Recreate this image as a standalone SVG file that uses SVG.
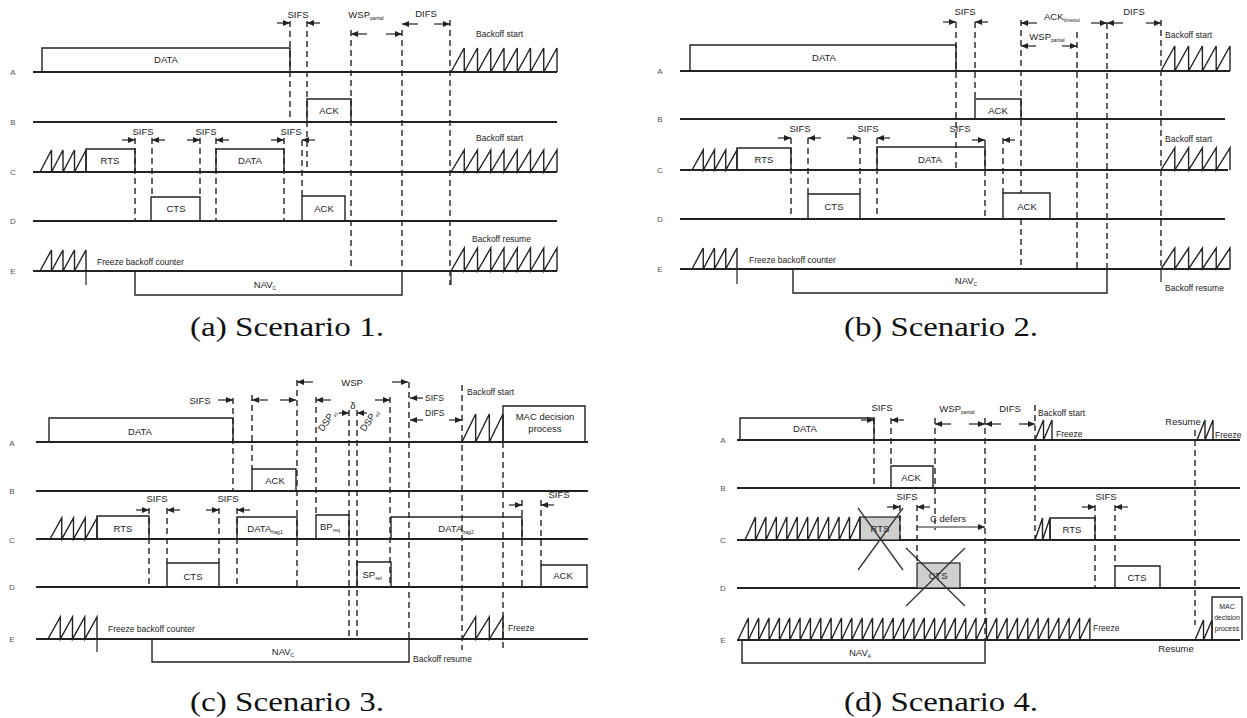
<svg xmlns="http://www.w3.org/2000/svg" width="1247" height="718" viewBox="0 0 1247 718">
<defs>
<marker id="ah" markerWidth="7" markerHeight="6" refX="7" refY="3" orient="auto" markerUnits="userSpaceOnUse"><path d="M0,0 L7,3 L0,6 z" fill="#222"/></marker>
<style>
.ln{stroke:#222;stroke-width:1.8;fill:none}
.bx{stroke:#222;stroke-width:1.4;fill:none}
.gb{stroke:#222;stroke-width:1.2;fill:#cfcfcf}
.ds{stroke:#222;stroke-width:1.4;stroke-dasharray:6,4;fill:none}
.sw{stroke:#222;stroke-width:1.4;fill:none;stroke-linejoin:miter}
.ar{stroke:#222;stroke-width:1.2;fill:none}
.tk{stroke:#222;stroke-width:1.2;fill:none}
.x{stroke:#333;stroke-width:1.3;fill:none}
.t{font-family:"Liberation Sans",Arial,sans-serif;font-size:9.5px;fill:#222;text-anchor:middle}
.tl{font-family:"Liberation Sans",Arial,sans-serif;font-size:8.5px;fill:#222;text-anchor:start}
.lb{font-family:"Liberation Sans",Arial,sans-serif;font-size:8px;fill:#555;text-anchor:middle}
.sm{font-family:"Liberation Sans",Arial,sans-serif;font-size:7px;fill:#222;text-anchor:middle}
.sub{font-size:5px}
.cap{font-family:"Liberation Serif","Times New Roman",serif;font-size:27px;fill:#111;text-anchor:middle}
</style>
</defs>
<rect width="1247" height="718" fill="#fff"/>

<!-- ============ Panel (a) ============ -->
<g id="panel-a">
<g id="a-rows">
<text class="lb" x="13" y="75">A</text><text class="lb" x="13" y="125">B</text><text class="lb" x="13" y="175">C</text><text class="lb" x="13" y="224">D</text><text class="lb" x="13" y="274">E</text>
<path class="ln" d="M33,72H557M33,122H557M33,172H557M33,221H557M33,271H557"/>
</g>
<g id="a-data-A"><path class="bx" d="M42,72V48H290V72"/><text class="t" x="166" y="63">DATA</text></g>
<g id="a-ack-B"><path class="bx" d="M307,122V99H351V122"/><text class="t" x="329" y="114">ACK</text></g>
<g id="a-rts-C"><path class="bx" d="M86,172V149H135V172"/><text class="t" x="110" y="164">RTS</text></g>
<g id="a-cts-D"><path class="bx" d="M151,221V197H200V221"/><text class="t" x="176" y="212">CTS</text></g>
<g id="a-data-C"><path class="bx" d="M216,172V149H284V172"/><text class="t" x="250" y="164">DATA</text></g>
<g id="a-ack-D"><path class="bx" d="M302,221V196H345V221"/><text class="t" x="324" y="212">ACK</text></g>
<g id="a-nav-E"><path class="bx" d="M135,271V295H402V271"/><text class="t" x="265" y="288">NAV<tspan class="sub" dy="2">C</tspan></text></g>
<g id="a-backoff">
<path class="sw" d="M451,72l13.25,-24v24l13.25,-24v24l13.25,-24v24l13.25,-24v24l13.25,-24v24l13.25,-24v24l13.25,-24v24l13.25,-24v24"/>
<path class="sw" d="M451,172l13.25,-22v22l13.25,-22v22l13.25,-22v22l13.25,-22v22l13.25,-22v22l13.25,-22v22l13.25,-22v22l13.25,-22v22"/>
<path class="sw" d="M451,271l13.25,-23v23l13.25,-23v23l13.25,-23v23l13.25,-23v23l13.25,-23v23l13.25,-23v23l13.25,-23v23l13.25,-23v23"/>
<path class="sw" d="M40,172l11.5,-22v22l11.5,-22v22l11.5,-22v22l11.5,-22v22"/>
<path class="sw" d="M40,271l11.5,-21v21l11.5,-21v21l11.5,-21v21l11.5,-21v21"/>
<text class="tl" x="476" y="37">Backoff start</text>
<text class="tl" x="476" y="141">Backoff start</text>
<text class="tl" x="472" y="242">Backoff resume</text>
<text class="tl" x="97" y="265">Freeze backoff counter</text>
</g>
<g id="a-connectors">
<path class="ds" d="M290,21V122M307,21V172M302,140V196M351,30V271M402,30V271M450,20V285M135,138V221M152,138V197M200,138V197M216,138V221M284,138V221"/>
<path class="tk" d="M86,271V285M451,271V285"/>
<g marker-end="url(#ah)">
<path class="ar" d="M277,23H290"/><path class="ar" d="M320,23H307"/>
<path class="ar" d="M367,34H351"/><path class="ar" d="M386,34H402"/>
<path class="ar" d="M418,24H402"/><path class="ar" d="M434,24H450"/>
<path class="ar" d="M122,140H135"/><path class="ar" d="M165,140H152"/>
<path class="ar" d="M187,140H200"/><path class="ar" d="M229,140H216"/>
<path class="ar" d="M271,140H284"/><path class="ar" d="M315,140H302"/>
</g>
<text class="t" x="298" y="18">SIFS</text>
<text class="t" x="366" y="18">WSP<tspan class="sub" dy="2">partial</tspan></text>
<text class="t" x="426" y="17">DIFS</text>
<text class="t" x="143" y="135">SIFS</text>
<text class="t" x="206" y="135" fill="#888">SIFS</text>
<text class="t" x="291" y="135">SIFS</text>
</g>
</g>

<!-- ============ Panel (b) ============ -->
<g id="panel-b">
<g id="b-rows">
<text class="lb" x="660" y="74">A</text><text class="lb" x="660" y="122">B</text><text class="lb" x="660" y="173">C</text><text class="lb" x="660" y="222">D</text><text class="lb" x="660" y="272">E</text>
<path class="ln" d="M680,71H1230M680,119H1225M680,170H1228M680,219H1225M680,269H1230"/>
</g>
<g id="b-data-A"><path class="bx" d="M690,71V45H956V71"/><text class="t" x="824" y="61">DATA</text></g>
<g id="b-ack-B"><path class="bx" d="M975,119V99H1021V119"/><text class="t" x="998" y="114">ACK</text></g>
<g id="b-rts-C"><path class="bx" d="M737,170V148H791V170"/><text class="t" x="764" y="163">RTS</text></g>
<g id="b-cts-D"><path class="bx" d="M808,219V194H860V219"/><text class="t" x="834" y="210">CTS</text></g>
<g id="b-data-C"><path class="bx" d="M877,170V147H985V170"/><text class="t" x="930" y="163">DATA</text></g>
<g id="b-ack-D"><path class="bx" d="M1003,219V193H1050V219"/><text class="t" x="1027" y="210">ACK</text></g>
<g id="b-nav-E"><path class="bx" d="M793,269V293H1107V269"/><text class="t" x="966" y="284">NAV<tspan class="sub" dy="2">C</tspan></text></g>
<g id="b-backoff">
<path class="sw" d="M1161,71l13.8,-25v25l13.8,-25v25l13.8,-25v25l13.8,-25v25l13.8,-25v25"/>
<path class="sw" d="M1161,170l13.8,-22v22l13.8,-22v22l13.8,-22v22l13.8,-22v22l13.8,-22v22"/>
<path class="sw" d="M1161,269l13.8,-21v21l13.8,-21v21l13.8,-21v21l13.8,-21v21l13.8,-21v21"/>
<path class="sw" d="M692,170l11.25,-20v20l11.25,-20v20l11.25,-20v20l11.25,-20v20"/>
<path class="sw" d="M692,269l11.25,-21v21l11.25,-21v21l11.25,-21v21l11.25,-21v21" stroke="#777"/>
<text class="tl" x="1165" y="38">Backoff start</text>
<text class="tl" x="1165" y="142">Backoff start</text>
<text class="tl" x="1165" y="291">Backoff resume</text>
<text class="tl" x="749" y="263">Freeze backoff counter</text>
</g>
<g id="b-connectors">
<path class="ds" d="M956,22V170M975,22V99M1021,20V193M1021,219V269M1077,32V269M1107,23V269M1161,20V269M791,138V219M808,138V194M860,138V194M877,138V219M985,140V219M1003,138V193"/>
<path class="tk" d="M737,269V284M1161,269V282"/>
<g marker-end="url(#ah)">
<path class="ar" d="M943,22H956"/><path class="ar" d="M988,22H975"/>
<path class="ar" d="M1037,23H1021"/><path class="ar" d="M1091,23H1107"/>
<path class="ar" d="M1123,23H1107"/><path class="ar" d="M1146,23H1161"/>
<path class="ar" d="M1036,46H1021"/><path class="ar" d="M1062,46H1077"/>
<path class="ar" d="M778,138H791"/><path class="ar" d="M821,138H808"/>
<path class="ar" d="M847,138H860"/><path class="ar" d="M890,138H877"/>
<path class="ar" d="M972,140H985"/><path class="ar" d="M1015,140H1003"/>
</g>
<text class="t" x="965" y="15">SIFS</text>
<text class="t" x="1062" y="20">ACK<tspan class="sub" dy="2">timeout</tspan></text>
<text class="t" x="1134" y="15">DIFS</text>
<text class="t" x="1047" y="40">WSP<tspan class="sub" dy="2">partial</tspan></text>
<text class="t" x="800" y="132">SIFS</text>
<text class="t" x="868" y="132">SIFS</text>
<text class="t" x="960" y="132">SIFS</text>
</g>
</g>

<!-- ============ Panel (c) ============ -->
<g id="panel-c">
<g id="c-rows">
<text class="lb" x="12" y="446">A</text><text class="lb" x="12" y="494">B</text><text class="lb" x="12" y="543">C</text><text class="lb" x="12" y="590">D</text><text class="lb" x="12" y="642">E</text>
<path class="ln" d="M36,442H588M36,491H588M36,539H588M36,587H588M36,639H588"/>
</g>
<g id="c-data-A"><path class="bx" d="M49,442V418H233V442"/><text class="t" x="140" y="435">DATA</text></g>
<g id="c-mac-A"><path class="bx" d="M503,442V406H585V442"/><text class="t" x="545" y="420">MAC decision</text><text class="t" x="545" y="432">process</text></g>
<g id="c-ack-B"><path class="bx" d="M252,491V469H296V491"/><text class="t" x="275" y="484">ACK</text></g>
<g id="c-rts-C"><path class="bx" d="M97,539V516H149V539"/><text class="t" x="123" y="532">RTS</text></g>
<g id="c-frag1-C"><path class="bx" d="M237,539V517H297V539"/><text class="t" x="265" y="532">DATA<tspan class="sub" dy="2">frag1</tspan></text></g>
<g id="c-bp-C"><path class="bx" d="M316,539V515H349V539"/><text class="t" x="330" y="530">BP<tspan class="sub" dy="2">req</tspan></text></g>
<g id="c-frag2-C"><path class="bx" d="M391,539V517H522V539"/><text class="t" x="456" y="532">DATA<tspan class="sub" dy="2">frag2</tspan></text></g>
<g id="c-cts-D"><path class="bx" d="M167,587V563H219V587"/><text class="t" x="193" y="580">CTS</text></g>
<g id="c-sp-D"><path class="bx" d="M357,587V562H391V587"/><text class="t" x="372" y="578">SP<tspan class="sub" dy="2">sel</tspan></text></g>
<g id="c-ack-D"><path class="bx" d="M541,587V565H587V587"/><text class="t" x="563" y="579">ACK</text></g>
<g id="c-nav-E"><path class="bx" d="M152,639V662H409V639"/><text class="t" x="283" y="655">NAV<tspan class="sub" dy="2">C</tspan></text></g>
<g id="c-backoff">
<path class="sw" d="M50,539l11.75,-21v21l11.75,-21v21l11.75,-21v21l11.75,-21v21"/>
<path class="sw" d="M48,639l12.25,-22v22l12.25,-22v22l12.25,-22v22l12.25,-22v22"/>
<path class="sw" d="M462,442l13.67,-28v28l13.67,-28v28l13.67,-28v28"/>
<path class="sw" d="M462,639l13.67,-22v22l13.67,-22v22l13.67,-22v22"/>
<text class="tl" x="467" y="395">Backoff start</text>
<text class="tl" x="108" y="632">Freeze backoff counter</text>
<text class="tl" x="413" y="662">Backoff resume</text>
<text class="tl" x="508" y="631">Freeze</text>
</g>
<g id="c-connectors">
<path class="ds" d="M233,398V491M252,395V469M297,380V587M316,397V515M349,410V639M357,410V639M390,397V587M409,382V639M462,385V650M503,442V650M522,500V587M541,500V565M149,508V587M167,508V563M219,508V563M237,508V587"/>
<path class="tk" d="M97,639V652"/>
<g marker-end="url(#ah)">
<path class="ar" d="M218,400H233"/>
<path class="ar" d="M268,400H252"/><path class="ar" d="M280,400H296"/>
<path class="ar" d="M313,382H297"/><path class="ar" d="M392,382H408"/>
<path class="ar" d="M331,400H316"/><path class="ar" d="M375,400H390"/>
<path class="ar" d="M339,413H349"/><path class="ar" d="M367,413H357"/>
<path class="ar" d="M423,398H410"/>
<path class="ar" d="M423,420H410"/><path class="ar" d="M449,420H462"/>
<path class="ar" d="M509,505H522"/><path class="ar" d="M554,505H541"/>
<path class="ar" d="M136,510H149"/><path class="ar" d="M180,510H167"/>
<path class="ar" d="M206,510H219"/><path class="ar" d="M250,510H237"/>
</g>
<text class="t" x="200" y="404">SIFS</text>
<text class="t" x="352" y="386">WSP</text>
<text class="t" x="353" y="409">δ</text>
<text class="t" x="330" y="422" transform="rotate(-55 330 422)">DSP<tspan class="sub" dy="2">e1</tspan></text>
<text class="t" x="372" y="422" transform="rotate(-55 372 422)">DSP<tspan class="sub" dy="2">e2</tspan></text>
<text class="tl" x="425" y="401">SIFS</text>
<text class="tl" x="425" y="416">DIFS</text>
<text class="t" x="559" y="498">SIFS</text>
<text class="t" x="157" y="502">SIFS</text>
<text class="t" x="228" y="502">SIFS</text>
</g>
</g>

<!-- ============ Panel (d) ============ -->
<g id="panel-d">
<g id="d-rows">
<text class="lb" x="723" y="443">A</text><text class="lb" x="723" y="491">B</text><text class="lb" x="723" y="543">C</text><text class="lb" x="723" y="591">D</text><text class="lb" x="723" y="643">E</text>
<path class="ln" d="M737,440H1240M737,488H1240M737,540H1240M737,588H1240M737,640H1240"/>
</g>
<g id="d-data-A"><path class="bx" d="M740,440V418H874V440"/><text class="t" x="805" y="432">DATA</text></g>
<g id="d-ack-B"><path class="bx" d="M891,488V466H933V488"/><text class="t" x="911" y="481">ACK</text></g>
<g id="d-rts-fail"><rect class="gb" x="860" y="517" width="40" height="23"/><text class="t" x="880" y="532">RTS</text><path class="x" d="M858,508L903,570M903,508L858,570"/></g>
<g id="d-cts-fail"><rect class="gb" x="917" y="563" width="43" height="25"/><text class="t" x="938" y="579">CTS</text><path class="x" d="M906,548L965,606M965,548L906,606"/></g>
<g id="d-rts-C"><path class="bx" d="M1050,540V518H1095V540"/><text class="t" x="1072" y="533">RTS</text></g>
<g id="d-cts-D"><path class="bx" d="M1115,588V566H1160V588"/><text class="t" x="1137" y="581">CTS</text></g>
<g id="d-mac-E"><path class="bx" d="M1212,640V597H1242V640"/><text class="sm" x="1227" y="609">MAC</text><text class="sm" x="1227" y="620">decision</text><text class="sm" x="1227" y="631">process</text></g>
<g id="d-nav-E"><path class="bx" d="M742,640V663H985V640"/><text class="t" x="860" y="656">NAV<tspan class="sub" dy="2">A</tspan></text></g>
<g id="d-backoff">
<path class="sw" d="M745,540l10.45,-23v23l10.45,-23v23l10.45,-23v23l10.45,-23v23l10.45,-23v23l10.45,-23v23l10.45,-23v23l10.45,-23v23l10.45,-23v23l10.45,-23v23l10.45,-23v23"/>
<path class="sw" d="M1035,440l8.5,-20v20l8.5,-20v20"/>
<path class="sw" d="M1197,440l8,-20v20l8,-20v20"/>
<path class="sw" d="M1035,540l7.5,-22v22l7.5,-22v22"/>
<path class="sw" d="M1195,640l8.5,-20v20l8.5,-20v20"/>
<path class="sw" d="M738,640l10.35,-22v22l10.35,-22v22l10.35,-22v22l10.35,-22v22l10.35,-22v22l10.35,-22v22l10.35,-22v22l10.35,-22v22l10.35,-22v22l10.35,-22v22l10.35,-22v22l10.35,-22v22l10.35,-22v22l10.35,-22v22l10.35,-22v22l10.35,-22v22l10.35,-22v22l10.35,-22v22l10.35,-22v22l10.35,-22v22l10.35,-22v22l10.35,-22v22l10.35,-22v22l10.35,-22v22l10.35,-22v22l10.35,-22v22l10.35,-22v22l10.35,-22v22l10.35,-22v22l10.35,-22v22l10.35,-22v22l10.35,-22v22l10.35,-22v22l10.35,-22v22"/>
<text class="tl" x="1038" y="416">Backoff start</text>
<text class="tl" x="1056" y="437">Freeze</text>
<text class="t" x="1183" y="425">Resume</text>
<text class="tl" x="1215" y="438">Freeze</text>
<text class="tl" x="1093" y="631">Freeze</text>
<text class="t" x="1176" y="652">Resume</text>
</g>
<g id="d-connectors">
<path class="ds" d="M874,418V488M891,418V466M935,418V530M985,418V640M1035,405V540M900,505V540M917,505V563M1095,505V588M1115,505V566M1195,430V625"/>
<g marker-end="url(#ah)">
<path class="ar" d="M861,420H874"/><path class="ar" d="M904,420H891"/>
<path class="ar" d="M951,424H935"/><path class="ar" d="M969,424H985"/>
<path class="ar" d="M1001,424H985"/><path class="ar" d="M1019,424H1035"/>
<path class="ar" d="M887,507H900"/><path class="ar" d="M930,507H917"/>
<path class="ar" d="M917,527H985"/>
<path class="ar" d="M1082,507H1095"/><path class="ar" d="M1128,507H1115"/>
</g>
<text class="t" x="882" y="411">SIFS</text>
<text class="t" x="957" y="412">WSP<tspan class="sub" dy="2">partial</tspan></text>
<text class="t" x="1010" y="412">DIFS</text>
<text class="t" x="907" y="500">SIFS</text>
<text class="t" x="948" y="522">C defers</text>
<text class="t" x="1106" y="500">SIFS</text>
</g>
</g>

<g id="captions">
<text class="cap" x="287" y="336" textLength="194" lengthAdjust="spacingAndGlyphs">(a) Scenario 1.</text>
<text class="cap" x="941" y="336" textLength="194" lengthAdjust="spacingAndGlyphs">(b) Scenario 2.</text>
<text class="cap" x="287" y="711" textLength="194" lengthAdjust="spacingAndGlyphs">(c) Scenario 3.</text>
<text class="cap" x="941" y="711" textLength="194" lengthAdjust="spacingAndGlyphs">(d) Scenario 4.</text>
</g>
</svg>
